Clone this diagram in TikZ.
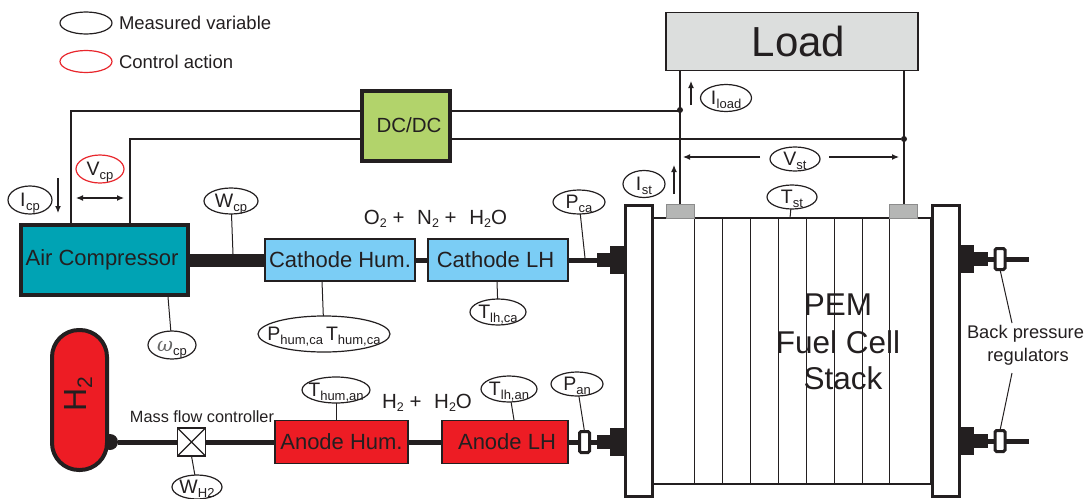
\documentclass[tikz,border=0pt]{standalone}
\usepackage{fontspec}
\setmainfont{Liberation Sans}
\newfontfamily\omfont{DejaVu Serif}
\usetikzlibrary{shapes.geometric,arrows.meta}
\definecolor{ink}{HTML}{231F20}
\definecolor{teal}{HTML}{00A3B4}
\definecolor{sky}{HTML}{7BCDF5}
\definecolor{redf}{HTML}{ED1C24}
\definecolor{lime}{HTML}{B2D36B}
\definecolor{loadg}{HTML}{DCDEDD}
\definecolor{capg}{HTML}{B5B6B5}
\definecolor{redl}{HTML}{E8262C}
\newcommand{\fs}[1]{\fontsize{#1}{#1}\selectfont}
% zero-size text so that the ellipse keeps its set size
\newcommand{\vl}[1]{\smash{\raisebox{-6.5pt}{\makebox[0pt][c]{#1}}}}
\newcommand{\lab}[2]{{\fs{19.5}#1}\raisebox{-3.5pt}{\fs{13}#2}}
\newcommand{\labi}[2]{{\fs{19.5}#1}\kern0.5pt\raisebox{-3.5pt}{\fs{13}#2}}
\newcommand{\sbs}{\raisebox{-3pt}{\fs{12.5}2}}
\tikzset{
 x=1pt,y=-1pt,
 every node/.style={text=ink,inner sep=0pt,outer sep=0pt},
 comp/.style={draw=ink,line width=1.5pt,rectangle,font=\fs{22}},
 var/.style={draw=ink,fill=white,ellipse,line width=1.2pt,inner sep=0pt},
 ctl/.style={var,draw=redl},
 wire/.style={draw=ink,line width=1.5pt},
 leader/.style={draw=ink,line width=1pt},
 pipe/.style={draw=ink,line width=5pt},
 block/.style={fill=ink,draw=none,rectangle},
 plate/.style={draw=ink,fill=white,line width=3pt,rectangle},
 regbox/.style={draw=ink,fill=white,line width=3pt,rectangle,rounded corners=1.5pt,minimum width=10pt,minimum height=21pt},
 meas/.style={-{Latex[length=7pt,width=6pt]},draw=ink,line width=1.2pt},
 meass/.style={{Latex[length=7pt,width=6pt]}-{Latex[length=7pt,width=6pt]},draw=ink,line width=1.2pt},
 jdot/.style={circle,fill=ink,minimum size=6pt},
 capbox/.style={rectangle,fill=capg,draw=black!45,line width=.6pt,minimum width=28pt,minimum height=14pt},
 cell/.style={draw=ink,line width=1pt},
}
\begin{document}
\begin{tikzpicture}
\useasboundingbox (0,0) rectangle (1084,498);
% legend
\node[var,minimum width=52pt,minimum height=22pt] (lm) at (86,23) {};
\node[ctl,minimum width=52pt,minimum height=22pt] (lc) at (86,61.5) {};
\node[anchor=west,font=\fs{18.5}] (lmt) at (119,23) {Measured variable};
\node[anchor=west,font=\fs{18.5}] (lct) at (119,61.5) {Control action};
% stack
\node[rectangle,draw=ink,line width=1.2pt,minimum width=278pt,minimum height=266pt] (stack) at (792,351) {};
\foreach \n/\xx in {1/694,2/722,3/750,4/778,5/806,6/834,7/862,8/889}
  \draw[cell] (\xx,218) -- (\xx,484);
\node[plate,minimum width=27pt,minimum height=291pt] (pl) at (638.5,350.5) {};
\node[plate,minimum width=27pt,minimum height=291pt] (pr) at (946,350.5) {};
\node[capbox] (capl) at (680,211) {};
\node[capbox] (capr) at (903,211) {};
\node[font=\fs{31.5}] (pem1) at (838,305) {PEM};
\node[font=\fs{31.5}] (pem2) at (838,342) {Fuel Cell};
\node[font=\fs{31.5}] (pem3) at (843,378) {Stack};
% load
\node[rectangle,draw=ink,fill=loadg,line width=1.2pt,minimum width=252pt,minimum height=58pt,font=\fs{42}] (load) at (792,41.5) {\kern13pt Load};
\coordinate (ll) at (680,71);
\coordinate (lr) at (904,71);
\draw[wire] (ll) -- (680,204);
\draw[wire] (lr) -- (904,204);
\node[jdot] (d1) at (680,110) {};
\node[jdot] (d2) at (904,139) {};
% dc/dc
\node[rectangle,draw=ink,fill=lime,line width=4pt,minimum width=88pt,minimum height=70pt] (dc) at (406,126) {};
\node[font=\fs{20.5}] (dct) at (409,125) {DC/DC};
\node[rectangle,draw=ink,fill=teal,line width=4pt,minimum width=167pt,minimum height=70pt,font=\fs{22}] (ac) at (104.5,260) {Air Compressor\kern5pt};
\coordinate (dcl1) at (dc.west |- 0,111);
\coordinate (dcl2) at (dc.west |- 0,139);
\coordinate (dcr1) at (dc.east |- 0,111);
\coordinate (dcr2) at (dc.east |- 0,139);
\coordinate (ac1) at (71,225);
\coordinate (ac2) at (130,225);
\draw[wire] (dcl1) -| (ac1);
\draw[wire] (dcl2) -| (ac2);
\draw[wire] (dcr1) -- (d1.center |- dcr1);
\draw[wire] (dcr2) -- (d2);
% components
\node[comp,fill=sky,minimum width=150pt,minimum height=42pt] (chum) at (340,260) {Cathode Hum.};
\node[comp,fill=sky,minimum width=140pt,minimum height=42pt] (clh) at (498,260) {Cathode LH\kern5pt};
\node[comp,fill=redf,minimum width=133pt,minimum height=43pt] (ahum) at (341.5,442) {Anode Hum.};
\node[comp,fill=redf,minimum width=126pt,minimum height=43pt] (alh) at (505,442) {\kern4pt Anode LH};
% tank
\node[circle,fill=ink,minimum size=16pt] (tn) at (110,442) {};
\node[rectangle,rounded corners=27pt,draw=ink,fill=redf,line width=4pt,minimum width=55pt,minimum height=140pt] (tank) at (79.5,400) {};
\node[rotate=90,font=\fs{32}] (h2) at (78,394) {H\raisebox{-6pt}{\fs{21}2}};
% valve
\node[rectangle,draw=ink,fill=white,line width=1.5pt,minimum width=28pt,minimum height=28pt] (valve) at (191.5,442) {};
\draw[draw=ink,line width=1.2pt] (valve.north west) -- (valve.south east) (valve.north east) -- (valve.south west);
\node[font=\fs{16.3}] (mfc) at (202,417) {Mass flow controller};
% stack connectors
\node[block,minimum width=14pt,minimum height=28pt] (bc1) at (617,260) {};
\node[block,minimum width=13pt,minimum height=14pt] (sc1) at (603.5,260) {};
\node[block,minimum width=14pt,minimum height=28pt] (bc2) at (617,442) {};
\node[block,minimum width=13pt,minimum height=14pt] (sc2) at (603.5,442) {};
\node[block,minimum width=13pt,minimum height=28pt] (bc3) at (967.5,259) {};
\node[block,minimum width=14pt,minimum height=14pt] (sc3) at (981,259) {};
\node[block,minimum width=13pt,minimum height=28pt] (bc4) at (967.5,441) {};
\node[block,minimum width=14pt,minimum height=14pt] (sc4) at (981,441) {};
% regulators
\node[regbox] (r0) at (584.5,442) {};
\node[regbox] (r1) at (1000,259) {};
\node[regbox] (r2) at (1000,441) {};
\coordinate (e1) at (1029,259);
\coordinate (e2) at (1029,441);
% pipes
\draw[draw=ink,line width=13pt] (ac.east) -- (chum.west);
\draw[pipe] (chum.east) -- (clh.west);
\draw[pipe] (clh.east) -- (sc1.west);
\draw[pipe] (tn) -- (valve.west);
\draw[pipe] (valve.east) -- (ahum.west);
\draw[pipe] (ahum.east) -- (alh.west);
\draw[pipe] (alh.east) -- (r0.west);
\draw[pipe] (r0.east) -- (sc2.west);
\draw[pipe] (sc3.east) -- (r1.west);
\draw[pipe] (r1.east) -- (e1);
\draw[pipe] (sc4.east) -- (r2.west);
\draw[pipe] (r2.east) -- (e2);
% variables
\node[var,minimum width=44pt,minimum height=28pt] (icp) at (30,200) {\vl{\labi{I}{cp}}};
\node[ctl,minimum width=48pt,minimum height=28pt] (vcp) at (100,169) {\vl{\lab{V}{cp}}};
\node[var,minimum width=54pt,minimum height=26pt] (wcp) at (231,201) {\vl{\lab{W}{cp}}};
\node[var,minimum width=48pt,minimum height=28pt] (omega) at (172,345) {\vl{\lab{\omfont\itshape\color{black!60}ω}{cp}}};
\node[var,minimum width=132pt,minimum height=36pt] (phum) at (324,334) {\vl{\lab{P}{hum,ca}\hspace{3pt}\lab{T}{hum,ca}}};
\node[var,minimum width=56pt,minimum height=26pt] (tlhca) at (498,312) {\vl{\lab{T}{lh,ca}}};
\node[var,minimum width=52pt,minimum height=24pt] (pca) at (579,202) {\vl{\lab{P}{ca}}};
\node[var,minimum width=68pt,minimum height=26pt] (than) at (336,390) {\vl{\lab{T}{hum,an}}};
\node[var,minimum width=56pt,minimum height=26pt] (tlhan) at (509,389) {\vl{\lab{T}{lh,an}}};
\node[var,minimum width=52pt,minimum height=24pt] (pan) at (577,384) {\vl{\lab{P}{an}}};
\node[var,minimum width=50pt,minimum height=24pt] (wh2) at (197,487) {\vl{\lab{W}{H2}}};
\node[var,minimum width=51pt,minimum height=27pt] (iload) at (726,98) {\vl{\labi{I}{load}}};
\node[var,minimum width=42pt,minimum height=27pt] (ist) at (644,184) {\vl{\labi{I}{st}}};
\node[var,minimum width=50pt,minimum height=24pt] (vst) at (795,159) {\vl{\lab{V}{st}}};
\node[var,minimum width=50pt,minimum height=24pt] (tst) at (792,197) {\vl{\lab{T}{st}}};
% chemistry
\node[font=\fs{20.5}] (cath) at (435.5,219) {O\sbs\ +\hspace{7pt} N\sbs\ +\hspace{7pt} H\sbs O};
\node[font=\fs{20.5}] (an) at (427,403) {H\sbs\ +\hspace{7pt} H\sbs O};
% leaders
\coordinate (wcpe) at (233,254);
\coordinate (ome) at (168,297);
\coordinate (phe) at (322,281);
\coordinate (tcae) at (497,281);
\coordinate (pcae) at (585,258);
\coordinate (thae) at (336,420);
\coordinate (tlae) at (514,420);
\coordinate (tste) at (790,218);
\draw[leader] (wcp) -- (wcpe);
\draw[leader] (omega) -- (ome);
\draw[leader] (phum) -- (phe);
\draw[leader] (tlhca) -- (tcae);
\draw[leader] (pca) -- (pcae);
\draw[leader] (than) -- (thae);
\draw[leader] (tlhan) -- (tlae);
\draw[leader] (pan) -- (r0.north);
\draw[leader] (wh2) -- (valve.south);
\draw[leader] (tst) -- (tste);
% arrows
\coordinate (a1s) at (58,178); \coordinate (a1e) at (58,213);
\draw[meas] (a1s) -- (a1e);
\coordinate (a2s) at (76,198); \coordinate (a2e) at (124,198);
\draw[meass] (a2s) -- (a2e);
\coordinate (a3s) at (691,105); \coordinate (a3e) at (691,81);
\draw[meas] (a3s) -- (a3e);
\coordinate (a4s) at (674,194); \coordinate (a4e) at (674,165);
\draw[meas] (a4s) -- (a4e);
\coordinate (a5s) at (760,157); \coordinate (a5e) at (683,157);
\draw[meas] (a5s) -- (a5e);
\coordinate (a6s) at (829,157); \coordinate (a6e) at (899,157);
\draw[meas] (a6s) -- (a6e);
% back pressure
\node[font=\fs{18.3}] (bpr1) at (1025.5,334) {Back pressure};
\node[font=\fs{18.3}] (bpr2) at (1028,357) {regulators};
\coordinate (bt) at (1012,323);
\coordinate (bb) at (1012,373);
\draw[leader] (r1.south) -- (bt);
\draw[leader] (r2.north) -- (bb);
\end{tikzpicture}
\end{document}
